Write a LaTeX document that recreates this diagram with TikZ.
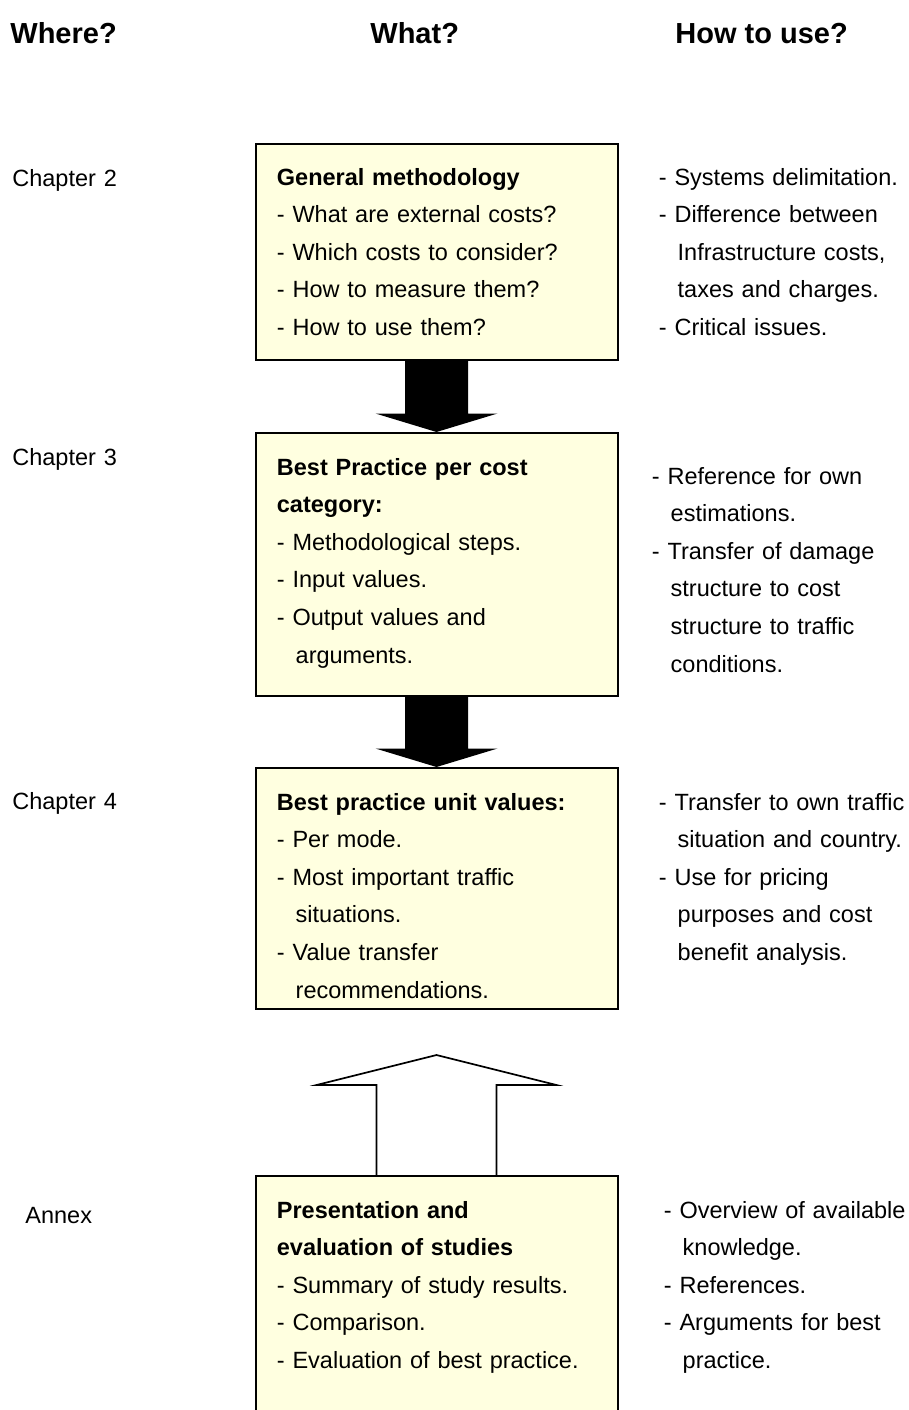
\documentclass[tikz,border=0pt]{standalone}
\usepackage{fontspec}
\setmainfont{Liberation Sans}
\usetikzlibrary{calc}
\definecolor{boxyellow}{RGB}{255,255,224}

\tikzset{
  whatbox/.style={draw, line width=1pt, fill=boxyellow, minimum width=181pt, anchor=north, inner sep=0pt},
  bodytext/.style={anchor=base west, inner sep=0pt, align=left, text width=#1, font=\fontsize{11.75}{18.8}\selectfont},
  bodytext/.default=170pt,
  headtext/.style={anchor=base west, inner sep=0pt, font=\fontsize{14.5}{17}\selectfont\bfseries},
  hollowarrow/.style={draw, line width=0.85pt, line join=miter},
}
\newcommand{\ind}{\hspace*{0.8em}}
% black block arrow from the bottom of one box to the top of the next
\newcommand{\blockarrow}[2]{%
  \fill ($(#1.south)+(-31.5,0)$) -- ($(#2.north)+(-31.5,-18.5)$) -- ($(#2.north)+(-61,-18.5)$)
    -- (#2.north) -- ($(#2.north)+(61,-18.5)$) -- ($(#2.north)+(31.5,-18.5)$)
    -- ($(#1.south)+(31.5,0)$) -- cycle;}

\begin{document}
\begin{tikzpicture}[x=0.5pt, y=-0.5pt]
    \useasboundingbox (0,0) rectangle (909,1410);
    \clip (0,0) rectangle (909,1410);

    % column heads
    \node[headtext] (where) at (10,43) {Where?};
    \node[headtext] (what) at (370,43) {What?};
    \node[headtext] (howuse) at (675,43) {How to use?};

    % where
    \node[bodytext] (ch2) at (12,186) {Chapter 2};
    \node[bodytext] (ch3) at (12,465) {Chapter 3};
    \node[bodytext] (ch4) at (12,809) {Chapter 4};
    \node[bodytext] (annex) at (25,1223) {Annex};

    % what
    \node[whatbox, minimum height=108pt] (meth) at (436.5,143) {};
    \node[whatbox, minimum height=131.5pt] (best) at (436.5,432) {};
    \node[whatbox, minimum height=120.5pt] (unit) at (436.5,767) {};
    \node[whatbox, minimum height=150pt] (pres) at (436.5,1175) {};

    \node[bodytext] (methtext) at ($(meth.north west)+(22,42)$) {\textbf{General methodology}\\
      - What are external costs?\\
      - Which costs to consider?\\
      - How to measure them?\\
      - How to use them?};
    \node[bodytext] (besttext) at ($(best.north west)+(22,43)$) {\textbf{Best Practice per cost}\\
      \textbf{category:}\\
      - Methodological steps.\\
      - Input values.\\
      - Output values and\\
      \ind arguments.};
    \node[bodytext] (unittext) at ($(unit.north west)+(22,43)$) {\textbf{Best practice unit values:}\\
      - Per mode.\\
      - Most important traffic\\
      \ind situations.\\
      - Value transfer\\
      \ind recommendations.};
    \node[bodytext] (prestext) at ($(pres.north west)+(22,43)$) {\textbf{Presentation and}\\
      \textbf{evaluation of studies}\\
      - Summary of study results.\\
      - Comparison.\\
      - Evaluation of best practice.};

    % how to use
    \node[bodytext=130pt] (methuse) at ($(meth.north west)+(404,42)$) {- Systems delimitation.\\
      - Difference between\\
      \ind Infrastructure costs,\\
      \ind taxes and charges.\\
      - Critical issues.};
    \node[bodytext=130pt] (bestuse) at ($(best.north west)+(397,52)$) {- Reference for own\\
      \ind estimations.\\
      - Transfer of damage\\
      \ind structure to cost\\
      \ind structure to traffic\\
      \ind conditions.};
    \node[bodytext=130pt] (unituse) at ($(unit.north west)+(404,43)$) {- Transfer to own traffic\\
      \ind situation and country.\\
      - Use for pricing\\
      \ind purposes and cost\\
      \ind benefit analysis.};
    \node[bodytext=130pt] (presuse) at ($(pres.north west)+(409,43)$) {- Overview of available\\
      \ind knowledge.\\
      - References.\\
      - Arguments for best\\
      \ind practice.};

    % arrows
    \blockarrow{meth}{best}
    \blockarrow{best}{unit}
    \coordinate (uptip) at (436.5,1055);
    \draw[hollowarrow] ($(pres.north)+(-60,0)$) -- ($(uptip)+(-60,30)$) -- ($(uptip)+(-120,30)$)
      -- (uptip) -- ($(uptip)+(120,30)$) -- ($(uptip)+(60,30)$) -- ($(pres.north)+(60,0)$);
\end{tikzpicture}
\end{document}
